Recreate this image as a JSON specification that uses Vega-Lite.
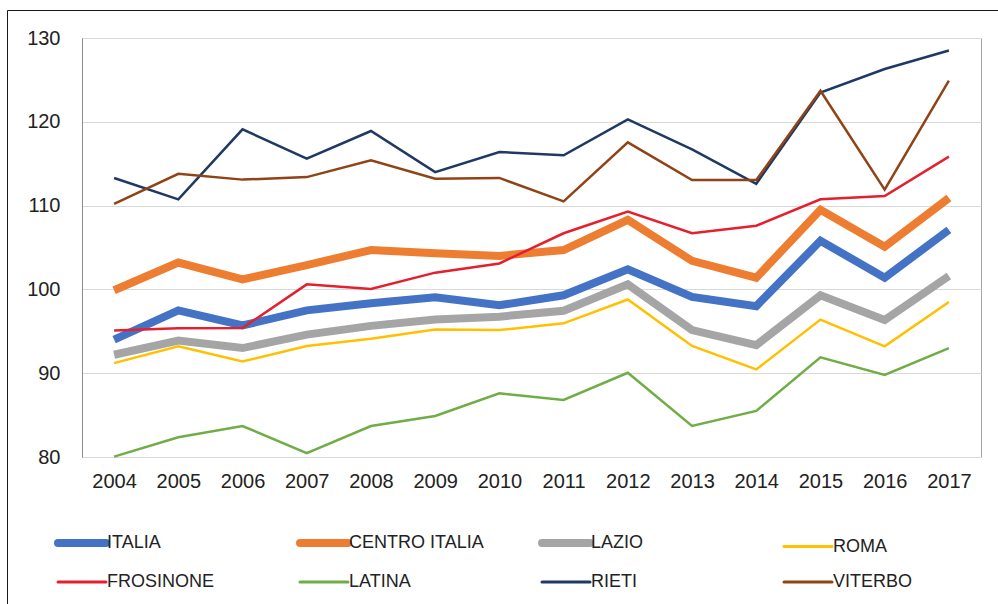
{
  "$schema": "https://vega.github.io/schema/vega-lite/v6.json",
  "autosize": {"type": "none"},
  "width": 899,
  "height": 419,
  "padding": {"left": 82, "top": 38, "right": 17, "bottom": 147},
  "background": "#ffffff",
  "config": {
    "view": {"stroke": "#a6a6a6", "strokeWidth": 1},
    "font": "Liberation Sans"
  },
  "data": {
    "values": [
      {"year": "2004", "series": "ITALIA", "value": 94.0},
      {"year": "2005", "series": "ITALIA", "value": 97.5},
      {"year": "2006", "series": "ITALIA", "value": 95.7},
      {"year": "2007", "series": "ITALIA", "value": 97.5},
      {"year": "2008", "series": "ITALIA", "value": 98.35},
      {"year": "2009", "series": "ITALIA", "value": 99.05},
      {"year": "2010", "series": "ITALIA", "value": 98.1},
      {"year": "2011", "series": "ITALIA", "value": 99.3},
      {"year": "2012", "series": "ITALIA", "value": 102.4},
      {"year": "2013", "series": "ITALIA", "value": 99.1},
      {"year": "2014", "series": "ITALIA", "value": 98.0},
      {"year": "2015", "series": "ITALIA", "value": 105.8},
      {"year": "2016", "series": "ITALIA", "value": 101.4},
      {"year": "2017", "series": "ITALIA", "value": 107.1},
      {"year": "2004", "series": "CENTRO ITALIA", "value": 99.9},
      {"year": "2005", "series": "CENTRO ITALIA", "value": 103.2},
      {"year": "2006", "series": "CENTRO ITALIA", "value": 101.2},
      {"year": "2007", "series": "CENTRO ITALIA", "value": 102.9},
      {"year": "2008", "series": "CENTRO ITALIA", "value": 104.7},
      {"year": "2009", "series": "CENTRO ITALIA", "value": 104.3},
      {"year": "2010", "series": "CENTRO ITALIA", "value": 104.0},
      {"year": "2011", "series": "CENTRO ITALIA", "value": 104.7},
      {"year": "2012", "series": "CENTRO ITALIA", "value": 108.3},
      {"year": "2013", "series": "CENTRO ITALIA", "value": 103.4},
      {"year": "2014", "series": "CENTRO ITALIA", "value": 101.4},
      {"year": "2015", "series": "CENTRO ITALIA", "value": 109.5},
      {"year": "2016", "series": "CENTRO ITALIA", "value": 105.1},
      {"year": "2017", "series": "CENTRO ITALIA", "value": 110.9},
      {"year": "2004", "series": "LAZIO", "value": 92.2},
      {"year": "2005", "series": "LAZIO", "value": 93.9},
      {"year": "2006", "series": "LAZIO", "value": 93.0},
      {"year": "2007", "series": "LAZIO", "value": 94.6},
      {"year": "2008", "series": "LAZIO", "value": 95.65},
      {"year": "2009", "series": "LAZIO", "value": 96.4},
      {"year": "2010", "series": "LAZIO", "value": 96.75},
      {"year": "2011", "series": "LAZIO", "value": 97.45},
      {"year": "2012", "series": "LAZIO", "value": 100.6},
      {"year": "2013", "series": "LAZIO", "value": 95.15},
      {"year": "2014", "series": "LAZIO", "value": 93.35},
      {"year": "2015", "series": "LAZIO", "value": 99.3},
      {"year": "2016", "series": "LAZIO", "value": 96.35},
      {"year": "2017", "series": "LAZIO", "value": 101.6},
      {"year": "2004", "series": "ROMA", "value": 91.2},
      {"year": "2005", "series": "ROMA", "value": 93.2},
      {"year": "2006", "series": "ROMA", "value": 91.4},
      {"year": "2007", "series": "ROMA", "value": 93.25},
      {"year": "2008", "series": "ROMA", "value": 94.1},
      {"year": "2009", "series": "ROMA", "value": 95.2},
      {"year": "2010", "series": "ROMA", "value": 95.15},
      {"year": "2011", "series": "ROMA", "value": 95.95},
      {"year": "2012", "series": "ROMA", "value": 98.8},
      {"year": "2013", "series": "ROMA", "value": 93.25},
      {"year": "2014", "series": "ROMA", "value": 90.45},
      {"year": "2015", "series": "ROMA", "value": 96.4},
      {"year": "2016", "series": "ROMA", "value": 93.2},
      {"year": "2017", "series": "ROMA", "value": 98.5},
      {"year": "2004", "series": "FROSINONE", "value": 95.1},
      {"year": "2005", "series": "FROSINONE", "value": 95.35},
      {"year": "2006", "series": "FROSINONE", "value": 95.4},
      {"year": "2007", "series": "FROSINONE", "value": 100.6},
      {"year": "2008", "series": "FROSINONE", "value": 100.05},
      {"year": "2009", "series": "FROSINONE", "value": 102.0},
      {"year": "2010", "series": "FROSINONE", "value": 103.1},
      {"year": "2011", "series": "FROSINONE", "value": 106.7},
      {"year": "2012", "series": "FROSINONE", "value": 109.3},
      {"year": "2013", "series": "FROSINONE", "value": 106.7},
      {"year": "2014", "series": "FROSINONE", "value": 107.6},
      {"year": "2015", "series": "FROSINONE", "value": 110.75},
      {"year": "2016", "series": "FROSINONE", "value": 111.15},
      {"year": "2017", "series": "FROSINONE", "value": 115.85},
      {"year": "2004", "series": "LATINA", "value": 80.05},
      {"year": "2005", "series": "LATINA", "value": 82.35},
      {"year": "2006", "series": "LATINA", "value": 83.7},
      {"year": "2007", "series": "LATINA", "value": 80.45},
      {"year": "2008", "series": "LATINA", "value": 83.7},
      {"year": "2009", "series": "LATINA", "value": 84.9},
      {"year": "2010", "series": "LATINA", "value": 87.6},
      {"year": "2011", "series": "LATINA", "value": 86.8},
      {"year": "2012", "series": "LATINA", "value": 90.05},
      {"year": "2013", "series": "LATINA", "value": 83.7},
      {"year": "2014", "series": "LATINA", "value": 85.5},
      {"year": "2015", "series": "LATINA", "value": 91.9},
      {"year": "2016", "series": "LATINA", "value": 89.8},
      {"year": "2017", "series": "LATINA", "value": 93.0},
      {"year": "2004", "series": "RIETI", "value": 113.3},
      {"year": "2005", "series": "RIETI", "value": 110.75},
      {"year": "2006", "series": "RIETI", "value": 119.1},
      {"year": "2007", "series": "RIETI", "value": 115.6},
      {"year": "2008", "series": "RIETI", "value": 118.9},
      {"year": "2009", "series": "RIETI", "value": 114.0},
      {"year": "2010", "series": "RIETI", "value": 116.4},
      {"year": "2011", "series": "RIETI", "value": 116.0},
      {"year": "2012", "series": "RIETI", "value": 120.3},
      {"year": "2013", "series": "RIETI", "value": 116.7},
      {"year": "2014", "series": "RIETI", "value": 112.6},
      {"year": "2015", "series": "RIETI", "value": 123.5},
      {"year": "2016", "series": "RIETI", "value": 126.3},
      {"year": "2017", "series": "RIETI", "value": 128.5},
      {"year": "2004", "series": "VITERBO", "value": 110.2},
      {"year": "2005", "series": "VITERBO", "value": 113.8},
      {"year": "2006", "series": "VITERBO", "value": 113.1},
      {"year": "2007", "series": "VITERBO", "value": 113.4},
      {"year": "2008", "series": "VITERBO", "value": 115.4},
      {"year": "2009", "series": "VITERBO", "value": 113.2},
      {"year": "2010", "series": "VITERBO", "value": 113.3},
      {"year": "2011", "series": "VITERBO", "value": 110.5},
      {"year": "2012", "series": "VITERBO", "value": 117.55},
      {"year": "2013", "series": "VITERBO", "value": 113.05},
      {"year": "2014", "series": "VITERBO", "value": 113.05},
      {"year": "2015", "series": "VITERBO", "value": 123.7},
      {"year": "2016", "series": "VITERBO", "value": 111.9},
      {"year": "2017", "series": "VITERBO", "value": 124.9}
    ]
  },
  "mark": {"type": "line", "strokeJoin": "miter", "strokeCap": "butt"},
  "encoding": {
    "x": {
      "field": "year",
      "type": "ordinal",
      "scale": {"type": "point", "padding": 0.5},
      "axis": {
        "title": null,
        "labelAngle": 0,
        "labelFontSize": 20,
        "labelColor": "#222222",
        "labelPadding": 14,
        "ticks": false,
        "domain": false,
        "grid": false
      }
    },
    "y": {
      "field": "value",
      "type": "quantitative",
      "scale": {"domain": [80, 130], "nice": false, "zero": false},
      "axis": {
        "title": null,
        "values": [80, 90, 100, 110, 120, 130],
        "labelFontSize": 20,
        "labelColor": "#222222",
        "labelPadding": 22,
        "ticks": false,
        "domain": true,
        "domainColor": "#8c8c8c",
        "gridColor": "#d9d9d9",
        "gridWidth": 1
      }
    },
    "color": {
      "field": "series",
      "type": "nominal",
      "sort": ["ITALIA", "CENTRO ITALIA", "LAZIO", "ROMA", "FROSINONE", "LATINA", "RIETI", "VITERBO"],
      "scale": {
        "domain": ["ITALIA", "CENTRO ITALIA", "LAZIO", "ROMA", "FROSINONE", "LATINA", "RIETI", "VITERBO"],
        "range": ["#4472C4", "#ED7D31", "#A5A5A5", "#FFC000", "#E5202E", "#70AD47", "#1F3864", "#8F4316"]
      },
      "legend": {
        "title": "MMMMMMMMMMMMMMMMMMMMMMMMMMMMMMMMMMMMMMMMMMMMMMMMMMMMMMMMMMMMMMMMMMMMMMMMMMMMMMMMMMMMMMMMMMMMMMMMMMMMMMMMMMMMMMMMMMMMMMMMMMMMMMMM",
        "orient": "none",
        "legendX": -75,
        "legendY": -28,
        "direction": "horizontal",
        "columns": 4,
        "gridAlign": "all",
        "columnPadding": 42,
        "rowPadding": 14,
        "padding": 48,
        "strokeColor": "#1a1a1a",
        "titleFontSize": 10,
        "titleOpacity": 0,
        "titleLimit": 3000,
        "titlePadding": 466,
        "symbolType": "stroke",
        "symbolSize": 2304,
        "symbolOffset": 18,
        "symbolStrokeWidth": 3,
        "labelFontSize": 18,
        "labelColor": "#222222",
        "labelOffset": 16,
        "labelLimit": 300,
        "encode": {
          "symbols": {
            "update": {
              "strokeWidth": {"signal": "indexof(['ITALIA','CENTRO ITALIA','LAZIO'], datum.value) >= 0 ? 8 : 3"},
              "strokeCap": {"value": "round"}
            }
          }
        }
      }
    },
    "strokeWidth": {
      "condition": {"test": "indexof(['ITALIA','CENTRO ITALIA','LAZIO'], datum.series) >= 0", "value": 8},
      "value": 2.5
    }
  }
}
